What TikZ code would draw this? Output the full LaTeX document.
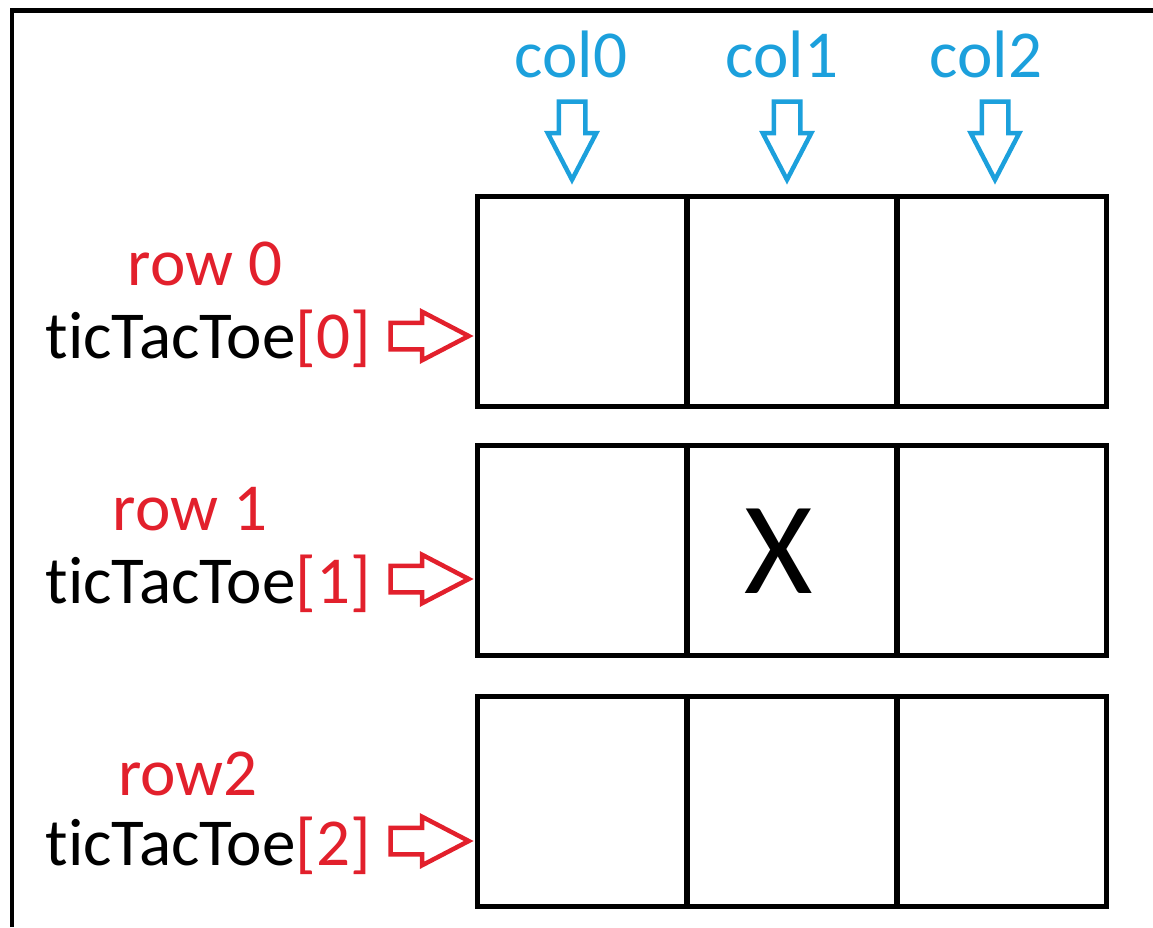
\documentclass[tikz,border=0pt]{standalone}
\usepackage{fontspec}
\setmainfont{Carlito}[RawFeature={-liga;-clig;-calt;-dlig}]
\usetikzlibrary{shapes.arrows}
\definecolor{rowred}{RGB}{226,32,44}
\definecolor{colblue}{RGB}{28,160,220}
\newcommand{\lbl}{\fontsize{38.2}{46}\selectfont}

\begin{document}
\begin{tikzpicture}[x=0.02cm,y=-0.02cm]
                        \tikzstyle{cell}=[draw,line width=0.1cm,minimum width=4.2cm,minimum height=4.2cm,inner sep=0pt]
                        \tikzstyle{rowname}=[text=rowred,font=\lbl,inner sep=0pt,anchor=base]
                        \tikzstyle{arrayname}=[font=\lbl,inner sep=0pt,anchor=base east]
                        \tikzstyle{colname}=[text=colblue,font=\lbl,inner sep=0pt,anchor=base]
                        \tikzstyle{rarrow}=[single arrow,draw=rowred,line width=0.09cm,minimum height=1.56cm,minimum width=0.88cm,inner sep=0.22cm,single arrow head extend=0.22cm,single arrow tip angle=55]
                        \tikzstyle{darrow}=[rarrow,draw=colblue,shape border rotate=270]
                        \useasboundingbox (0,0) rectangle (1153,927);
                        % outer frame
                        \draw[line width=0.1cm] (12,927) -- (12,10.5) -- (1153,10.5);
                        % column labels
                        \node[colname] (col0) at (571,77) {col0};
                        \node[colname] (col1) at (782,77) {col1};
                        \node[colname] (col2) at (986,77) {col2};
                        \node[darrow] (d0) at (572,128) {};
                        \node[darrow] (d1) at (787,128) {};
                        \node[darrow] (d2) at (995,128) {};
                        % row 0
                        \node[rowname] (row0) at (205,285) {row 0};
                        \node[arrayname] (ttt0) at (371,358) {ticTacToe\textcolor{rowred}{[0]}};
                        \node[rarrow] (a0) at (417,336) {};
                        \node[cell] (c00) at (582,301.5) {};
                        \node[cell] (c01) at (792,301.5) {};
                        \node[cell] (c02) at (1002,301.5) {};
                        % row 1
                        \node[rowname] (row1) at (190,530) {row 1};
                        \node[arrayname] (ttt1) at (371,603) {ticTacToe\textcolor{rowred}{[1]}};
                        \node[rarrow] (a1) at (417,579) {};
                        \node[cell] (c10) at (582,550.5) {};
                        \node[cell] (c11) at (792,550.5) {};
                        \node[cell] (c12) at (1002,550.5) {};
                        \node[inner sep=0pt,font=\fontsize{75}{80}\selectfont] (x11) at (779,551) {X};
                        % row 2
                        \node[rowname] (row2) at (188,795) {row2};
                        \node[arrayname] (ttt2) at (371,865) {ticTacToe\textcolor{rowred}{[2]}};
                        \node[rarrow] (a2) at (417,841) {};
                        \node[cell] (c20) at (582,801.5) {};
                        \node[cell] (c21) at (792,801.5) {};
                        \node[cell] (c22) at (1002,801.5) {};
\end{tikzpicture}
\end{document}
